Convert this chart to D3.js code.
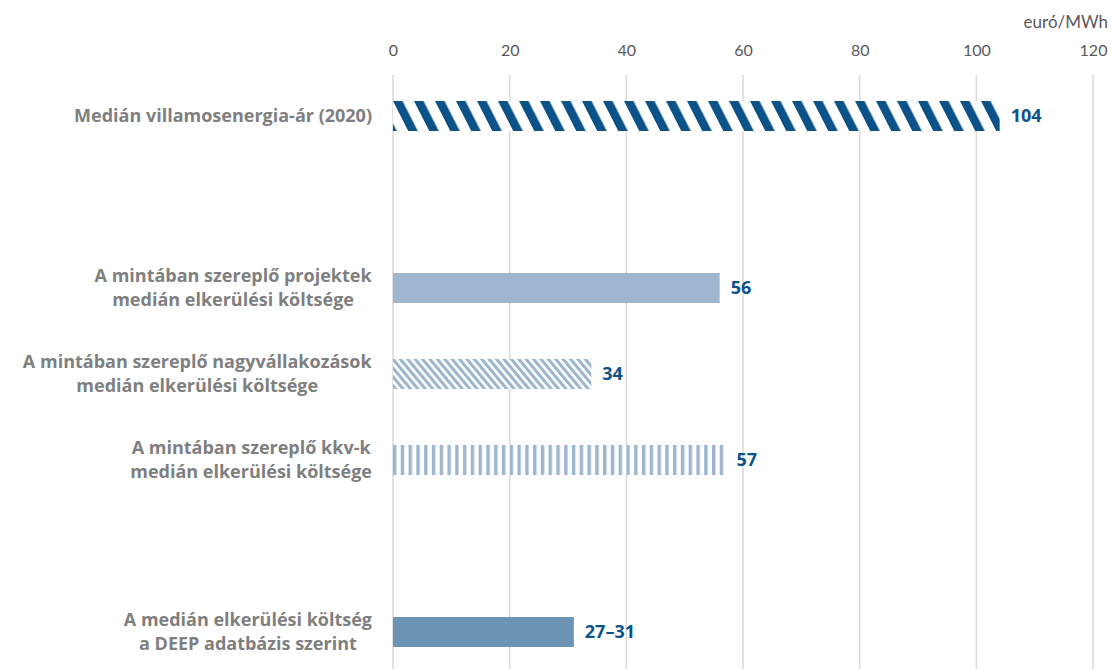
<!DOCTYPE html>
<html>
<head>
<meta charset="utf-8">
<script src="https://cdn.jsdelivr.net/npm/d3@7"></script>
<style>
  html, body { margin: 0; padding: 0; background: #fff; }
  svg { display: block; font-family: Lato, "Open Sans", sans-serif; }
</style>
</head>
<body>
<svg id="chart" width="1112" height="669"></svg>
<script>
// ---- data ----
const categories = [
  ["Medián villamosenergia-ár (2020)"],
  ["A mintában szereplő projektek", "medián elkerülési költsége"],
  ["A mintában szereplő nagyvállakozások", "medián elkerülési költsége"],
  ["A mintában szereplő kkv-k", "medián elkerülési költsége"],
  ["A medián elkerülési költség", "a DEEP adatbázis szerint"]
];
const slots = [0, 2, 3, 4, 6];           // row positions (empty rows 1 and 5)
const values = [104, 56, 34, 57, 31];
const valueLabels = ["104", "56", "34", "57", "27–31"];
const fills = ["url(#pWide)", "#9DB6CE", "url(#pNarrow)", "url(#pVert)", "#6A93B5"];
const tickValues = [0, 20, 40, 60, 80, 100, 120];
const unitLabel = "euró/MWh";

// ---- layout ----
const svg = d3.select("#chart");
const x = d3.scaleLinear().domain([0, 120]).range([393, 1093]);
const y = d3.scaleBand().domain(d3.range(7)).range([73, 675]).paddingInner(0).paddingOuter(0);
const barH = 30;

// ---- patterns ----
const defs = svg.append("defs");
const p1 = defs.append("pattern").attr("id", "pWide")
  .attr("patternUnits", "userSpaceOnUse").attr("width", 21).attr("height", 40)
  .attr("patternTransform", "translate(393,101) skewX(27)");
p1.append("rect").attr("width", 21).attr("height", 40).attr("fill", "#fff");
p1.append("rect").attr("x", 0).attr("width", 9.5).attr("height", 40).attr("fill", "#0B5289");

const p3 = defs.append("pattern").attr("id", "pNarrow")
  .attr("patternUnits", "userSpaceOnUse").attr("width", 7.4).attr("height", 40)
  .attr("patternTransform", "translate(393,0) skewX(40)");
p3.append("rect").attr("width", 7.4).attr("height", 40).attr("fill", "#fff");
p3.append("rect").attr("width", 4).attr("height", 40).attr("fill", "#9DB6CE");

const p4 = defs.append("pattern").attr("id", "pVert")
  .attr("patternUnits", "userSpaceOnUse").attr("width", 7.78).attr("height", 40)
  .attr("patternTransform", "translate(393,0)");
p4.append("rect").attr("width", 7.78).attr("height", 40).attr("fill", "#fff");
p4.append("rect").attr("width", 3.4).attr("height", 40).attr("fill", "#9DB6CE");

// ---- gridlines ----
svg.append("g").selectAll("line").data(tickValues).join("line")
  .attr("x1", d => x(d)).attr("x2", d => x(d))
  .attr("y1", 75).attr("y2", 669)
  .attr("stroke", "#D9D9D9").attr("stroke-width", 1.5);

// ---- top axis ----
const axis = svg.append("g").attr("transform", "translate(0,62)")
  .call(d3.axisTop(x).tickValues(tickValues).tickSize(0).tickPadding(6));
axis.select(".domain").remove();
axis.selectAll("text")
  .attr("fill", "#595959").style("font-size", "16px")
  .style("font-family", "Lato, 'Open Sans', sans-serif");

svg.append("text").attr("x", 1108).attr("y", 28)
  .attr("text-anchor", "end").attr("fill", "#595959")
  .style("font-size", "17px").text(unitLabel);

// ---- bars ----
const cy = i => y(slots[i]) + y.bandwidth() / 2;
svg.append("g").selectAll("rect").data(values).join("rect")
  .attr("x", x(0))
  .attr("y", (d, i) => cy(i) - barH / 2)
  .attr("width", d => x(d) - x(0))
  .attr("height", barH)
  .attr("fill", (d, i) => fills[i]);

// ---- value labels ----
svg.append("g").selectAll("text").data(values).join("text")
  .attr("x", d => x(d) + 11)
  .attr("y", (d, i) => cy(i))
  .attr("dy", "0.35em")
  .attr("fill", "#0B5289")
  .style("font-family", "'Open Sans', Lato, sans-serif")
  .style("font-size", "18px").style("font-weight", "bold")
  .text((d, i) => valueLabels[i]);

// ---- category labels (one text per line) ----
const catG = svg.append("g")
  .style("font-family", "'Open Sans', Lato, sans-serif")
  .style("font-size", "18px").style("font-weight", "bold");
categories.forEach((lines, i) => {
  const lh = 24;
  const y0 = cy(i) - (lines.length - 1) * lh / 2;
  const g = catG.append("g");
  lines.forEach((ln, j) => {
    g.append("text").attr("x", 0).attr("y", y0 + j * lh).attr("dy", "0.35em")
      .attr("text-anchor", "middle").attr("fill", "#7F7F7F").text(ln);
  });
  const w = g.node().getBBox().width;
  g.attr("transform", `translate(${372 - w / 2},0)`);
});
</script>
</body>
</html>
